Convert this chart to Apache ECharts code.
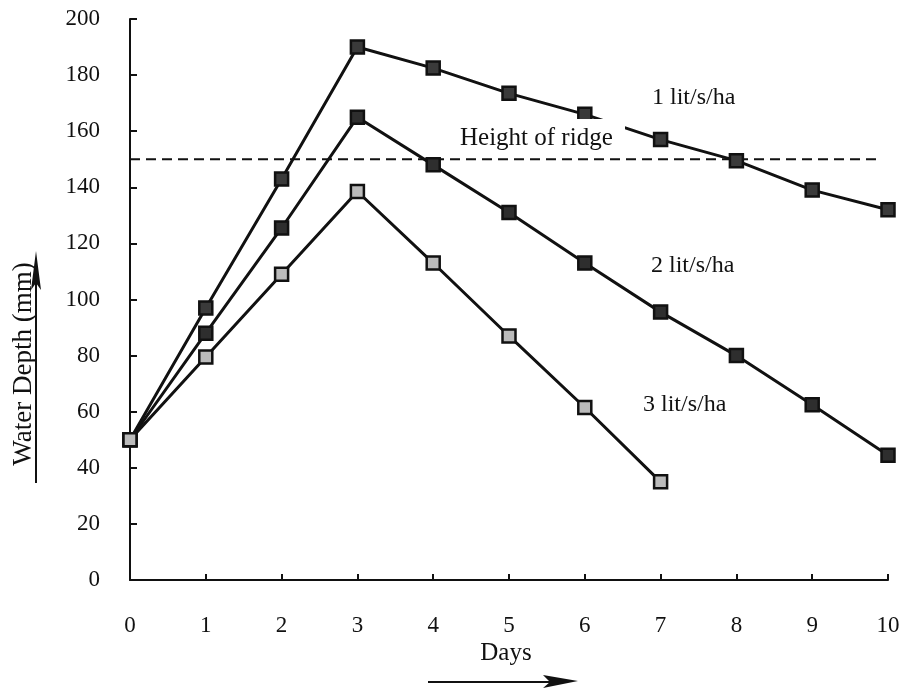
<!DOCTYPE html>
<html>
<head>
<meta charset="utf-8">
<script src="https://cdn.jsdelivr.net/npm/echarts@6/dist/echarts.min.js"></script>
<style>html,body{margin:0;padding:0;background:#fff}#c{width:904px;height:689px}</style>
</head>
<body>
<div id="c"></div>
<script>
var days = [0, 1, 2, 3, 4, 5, 6, 7, 8, 9, 10];
var rate1 = [50, 97, 143, 190, 182.5, 173.5, 166, 157, 149.5, 139, 132];
var rate2 = [50, 88, 125.5, 165, 148, 131, 113, 95.5, 80, 62.5, 44.5];
var days3 = [0, 1, 2, 3, 4, 5, 6, 7];
var rate3 = [50, 79.5, 109, 138.5, 113, 87, 61.5, 35];
var ridgeHeight = 150;
var ridgeSpan = [0, 9.87];
var yTicks = [0, 20, 40, 60, 80, 100, 120, 140, 160, 180, 200];
var seriesNames = ['1 lit/s/ha', '2 lit/s/ha', '3 lit/s/ha'];

var FONT = '"Liberation Serif", "DejaVu Serif", serif';
function pairs(xs, ys) { return xs.map(function (x, i) { return [x, ys[i]]; }); }

var chart = echarts.init(document.getElementById('c'), null, { renderer: 'canvas' });
var axisStyle = { lineStyle: { color: '#111', width: 2 } };
chart.setOption({
  animation: false,
  backgroundColor: '#fff',
  grid: { left: 130, right: 16, top: 19, bottom: 109, containLabel: false },
  xAxis: {
    type: 'value', min: 0, max: 10, interval: 1,
    axisLine: axisStyle,
    axisTick: { inside: true, length: 6, lineStyle: { color: '#111', width: 2 } },
    axisLabel: { margin: 34, color: '#111', fontFamily: FONT, fontSize: 23 },
    splitLine: { show: false }
  },
  yAxis: {
    type: 'value', min: 0, max: 200, interval: 20,
    axisLine: axisStyle,
    axisTick: { inside: true, length: 7, lineStyle: { color: '#111', width: 2 } },
    axisLabel: { margin: 30, color: '#111', fontFamily: FONT, fontSize: 23,
      formatter: function (v) { return yTicks.indexOf(v) >= 0 ? String(v) : ''; } },
    splitLine: { show: false }
  },
  series: [
    {
      name: 'ridge', type: 'line', data: [[ridgeSpan[0], ridgeHeight], [ridgeSpan[1], ridgeHeight]],
      symbol: 'none', lineStyle: { color: '#111', width: 2, type: [10, 6] }, z: 1
    },
    {
      name: seriesNames[0], type: 'line', data: pairs(days, rate1),
      symbol: 'rect', symbolSize: 13,
      lineStyle: { color: '#111', width: 3 },
      itemStyle: { color: '#3a3a3a', borderColor: '#111', borderWidth: 2.5 }
    },
    {
      name: seriesNames[1], type: 'line', data: pairs(days, rate2),
      symbol: 'rect', symbolSize: 13,
      lineStyle: { color: '#111', width: 3 },
      itemStyle: { color: '#2e2e2e', borderColor: '#111', borderWidth: 2.5 }
    },
    {
      name: seriesNames[2], type: 'line', data: pairs(days3, rate3),
      symbol: 'rect', symbolSize: 13,
      lineStyle: { color: '#111', width: 3 },
      itemStyle: { color: '#bbb', borderColor: '#111', borderWidth: 2.5 }
    }
  ],
  graphic: [
    { type: 'rect', shape: { x: 455, y: 119, width: 170, height: 33 }, style: { fill: '#fff' }, z: 50 },
    { type: 'text', x: 460, y: 138, z: 51, style: { text: 'Height of ridge', font: '25px ' + FONT, fill: '#111', textVerticalAlign: 'middle' } },
    { type: 'text', x: 652, y: 98, z: 51, style: { text: seriesNames[0], font: '24px ' + FONT, fill: '#111', textVerticalAlign: 'middle' } },
    { type: 'text', x: 651, y: 266, z: 51, style: { text: seriesNames[1], font: '24px ' + FONT, fill: '#111', textVerticalAlign: 'middle' } },
    { type: 'text', x: 643, y: 405, z: 51, style: { text: seriesNames[2], font: '24px ' + FONT, fill: '#111', textVerticalAlign: 'middle' } },
    { type: 'text', x: 506, y: 653, z: 51, style: { text: 'Days', font: '25px ' + FONT, fill: '#111', textAlign: 'center', textVerticalAlign: 'middle' } },
    { type: 'text', x: 24, y: 364, rotation: Math.PI / 2, z: 51, style: { text: 'Water Depth (mm)', font: '27px ' + FONT, fill: '#111', textAlign: 'center', textVerticalAlign: 'middle' } },
    { type: 'line', shape: { x1: 36, y1: 483, x2: 36, y2: 262 }, style: { stroke: '#111', lineWidth: 2 }, z: 51 },
    { type: 'polygon', shape: { points: [[36, 251], [31, 290], [36, 283], [41, 290]] }, style: { fill: '#111' }, z: 51 },
    { type: 'line', shape: { x1: 428, y1: 682, x2: 568, y2: 682 }, style: { stroke: '#111', lineWidth: 2 }, z: 51 },
    { type: 'polygon', shape: { points: [[578, 681], [543, 675], [550, 682], [543, 688]] }, style: { fill: '#111' }, z: 51 }
  ]
});
</script>
</body>
</html>
